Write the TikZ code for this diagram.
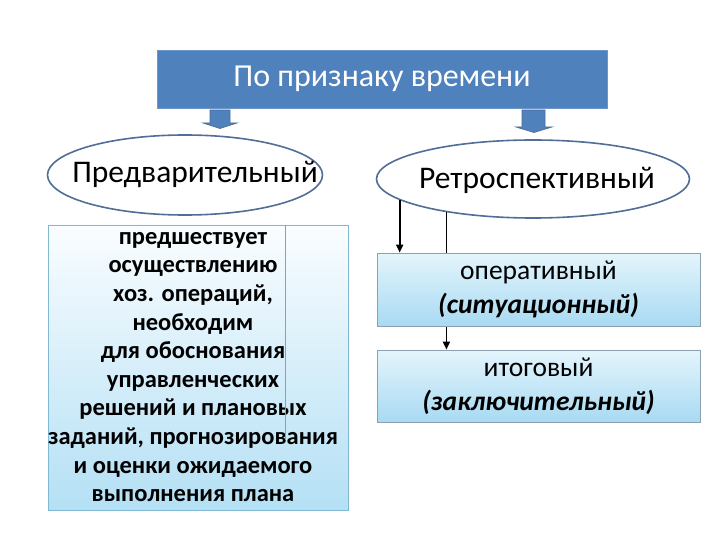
\documentclass[tikz,border=0pt]{standalone}
\usepackage{fontspec}
\setmainfont{Carlito}
\usetikzlibrary{shapes.geometric,arrows.meta}
\definecolor{titleblue}{RGB}{79,129,189}
\definecolor{titleedge}{RGB}{110,150,200}
\definecolor{elledge}{RGB}{80,110,150}
\definecolor{boxedge}{RGB}{130,185,210}
\definecolor{boxtop}{RGB}{250,253,255}
\definecolor{boxbot}{RGB}{180,224,245}
\definecolor{rboxtop}{RGB}{228,245,252}
\definecolor{rboxbot}{RGB}{168,218,242}
\definecolor{rboxedge}{RGB}{140,160,175}
\tikzset{
  titlebox/.style={rectangle,fill=titleblue,draw=titleedge,line width=0.8pt,
    minimum width=450pt,minimum height=58pt,inner sep=0pt,text=white,
    font=\fontsize{32}{36}\selectfont},
  blockarr/.style={fill=titleblue,draw=elledge,line width=0.7pt,line join=miter},
  oval/.style={ellipse,fill=white,draw=elledge,line width=1.6pt,inner sep=0pt},
  ovaltext/.style={inner sep=0pt,font=\fontsize{31.5}{36}\selectfont},
  descbox/.style={rectangle,draw=boxedge,line width=0.8pt,top color=boxtop,
    bottom color=boxbot,minimum width=300pt,minimum height=285pt,inner sep=0pt},
  desctxt/.style={align=center,inner sep=0pt,font=\bfseries\fontsize{24.5}{28.6}\selectfont},
  kindbox/.style={rectangle,draw=rboxedge,line width=0.8pt,top color=rboxtop,
    bottom color=rboxbot,minimum width=323pt,minimum height=73pt,inner sep=0pt,
    align=center,font=\fontsize{27.5}{34}\selectfont},
  conn/.style={line width=1.8pt,black},
  arr/.style={conn,-{Triangle[length=8pt,width=7pt]}}
}
\begin{document}
\begin{tikzpicture}[x=1pt,y=-1pt]
\useasboundingbox[fill=white] (0,0) rectangle (720,540);
% title
\node[titlebox] (title) at (382,79) {По признаку времени};
% block arrows
\draw[blockarr] (210,110) -- (230,110) -- (230,123) -- (237,123) -- (220,128.5)
  -- (203,123) -- (210,123) -- cycle;
\draw[blockarr] (522,110) -- (545,110) -- (545,127) -- (552,127) -- (534,132.5)
  -- (516,127) -- (522,127) -- cycle;
% ellipses
\node[oval,minimum width=275pt,minimum height=80pt] (pre) at (185,175) {};
\node[ovaltext] (pretext) at (195,174) {Предварительный};
\node[oval,minimum width=313pt,minimum height=78pt] (ret) at (533,179) {};
\node[ovaltext] (rettext) at (537,180) {Ретроспективный};
% left description box
\node[descbox] (desc) at (198,367.5) {};
\node[desctxt] (desctext) at (193,367) {предшествует\\осуществлению\\хоз. операций,\\необходим\\для обоснования\\управленческих\\решений и плановых\\заданий, прогнозирования\\и оценки ожидаемого\\выполнения плана};
\coordinate (vl1) at (285,225);
\coordinate (vl2) at (285,440);
\draw[line width=0.6pt,color=rboxedge] (vl1) -- (vl2);
% right boxes
\node[kindbox,minimum height=72pt] (fin) at (538.5,386) {итоговый\\\textbf{\itshape (заключительный)}};
\draw[arr] (ret.201.7) -- (ret.201.7 |- fin.north);
\node[kindbox] (op) at (538.5,289.5) {оперативный\\\textbf{\itshape (ситуационный)}};
\draw[arr] (ret.189.7) -- (ret.189.7 |- op.north);
\end{tikzpicture}
\end{document}
